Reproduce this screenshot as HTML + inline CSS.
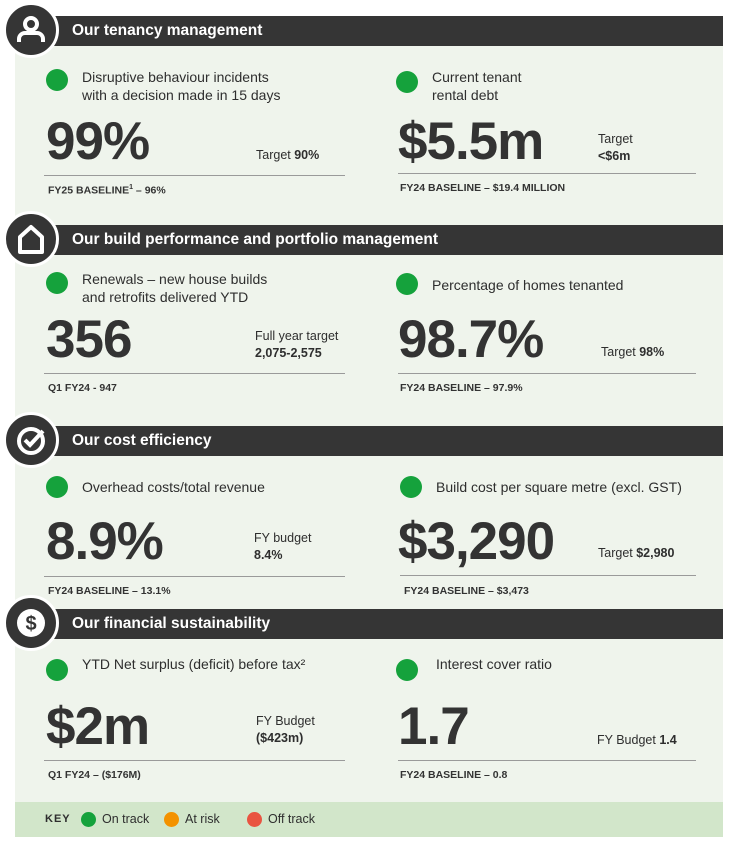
<!DOCTYPE html>
<html><head><meta charset="utf-8"><style>
*{margin:0;padding:0;box-sizing:border-box}
body{width:738px;height:852px;background:#fff;position:relative;font-family:"Liberation Sans",sans-serif;color:#2e2e2e;overflow:hidden}
.a{position:absolute;white-space:nowrap}
.panel{position:absolute;left:15px;top:30px;width:708px;height:772px;background:#eff4ec}
.key{position:absolute;left:15px;top:802px;width:708px;height:35px;background:#d2e6ca}
.bar{position:absolute;left:50px;width:673px;height:30px;background:#353535;color:#fff;font-weight:bold;font-size:15.5px;line-height:30px;padding-left:22px}
.ic{position:absolute;left:3px;width:56px;height:56px;border-radius:50%;background:#353535;border:3px solid #fff}
.dot{position:absolute;width:22px;height:22px;border-radius:50%;background:#15a23c}
.t{font-size:14px;line-height:18px;color:#2e2e2e}
.big{font-size:53px;font-weight:bold;color:#333;letter-spacing:-1px}
.s{font-size:12.5px;line-height:17px}
.ln{position:absolute;height:1px;background:#9a9a9a}
.b{font-size:10.5px;font-weight:bold;color:#333}
</style></head><body>
<div class="panel"></div>
<div class="key"></div>

<div class="bar" style="top:16px">Our tenancy management</div>
<div class="ic" style="top:2px"><svg width="50" height="50" viewBox="0 0 50 50"><circle cx="25" cy="19" r="6" fill="none" stroke="#fff" stroke-width="4"/><path d="M13 37v-3a6 6 0 0 1 6-6h12a6 6 0 0 1 6 6v3" fill="none" stroke="#fff" stroke-width="4"/></svg></div>
<div class="bar" style="top:225px">Our build performance and portfolio management</div>
<div class="ic" style="top:211px"><svg width="50" height="50" viewBox="0 0 50 50"><path d="M14 38V23l11-10 11 10v15z" fill="none" stroke="#fff" stroke-width="4" stroke-linejoin="round"/></svg></div>
<div class="bar" style="top:426px">Our cost efficiency</div>
<div class="ic" style="top:412px"><svg width="50" height="50" viewBox="0 0 50 50"><circle cx="25" cy="26" r="12" fill="none" stroke="#fff" stroke-width="4"/><path d="M19 25l5 5 13-14" fill="none" stroke="#fff" stroke-width="4"/></svg></div>
<div class="bar" style="top:609px">Our financial sustainability</div>
<div class="ic" style="top:595px"><svg width="50" height="50" viewBox="0 0 50 50"><circle cx="25" cy="25" r="14" fill="#fff"/><text x="25" y="32" text-anchor="middle" font-family="Liberation Sans" font-weight="bold" font-size="20" fill="#353535">$</text></svg></div>

<!-- S1 -->
<div class="dot" style="left:46px;top:69px"></div>
<div class="a t" style="left:82px;top:68px">Disruptive behaviour incidents<br>with a decision made in 15 days</div>
<div class="a big" style="left:46px;top:111px">99%</div>
<div class="a s" style="left:256px;top:147px">Target <b>90%</b></div>
<div class="ln" style="left:44px;top:175px;width:301px"></div>
<div class="a b" style="left:48px;top:184px">FY25 BASELINE<sup style="font-size:7px">1</sup> – 96%</div>

<div class="dot" style="left:396px;top:71px"></div>
<div class="a t" style="left:432px;top:68px">Current tenant<br>rental debt</div>
<div class="a big" style="left:398px;top:111px">$5.5m</div>
<div class="a s" style="left:598px;top:131px">Target<br><b>&lt;$6m</b></div>
<div class="ln" style="left:398px;top:173px;width:298px"></div>
<div class="a b" style="left:400px;top:182px">FY24 BASELINE – $19.4 MILLION</div>

<!-- S2 -->
<div class="dot" style="left:46px;top:272px"></div>
<div class="a t" style="left:82px;top:270px">Renewals – new house builds<br>and retrofits delivered YTD</div>
<div class="a big" style="left:46px;top:309px">356</div>
<div class="a s" style="left:255px;top:328px">Full year target<br><b>2,075-2,575</b></div>
<div class="ln" style="left:44px;top:373px;width:301px"></div>
<div class="a b" style="left:48px;top:382px">Q1 FY24 - 947</div>

<div class="dot" style="left:396px;top:273px"></div>
<div class="a t" style="left:432px;top:276px">Percentage of homes tenanted</div>
<div class="a big" style="left:398px;top:309px">98.7%</div>
<div class="a s" style="left:601px;top:344px">Target <b>98%</b></div>
<div class="ln" style="left:398px;top:373px;width:298px"></div>
<div class="a b" style="left:400px;top:382px">FY24 BASELINE – 97.9%</div>

<!-- S3 -->
<div class="dot" style="left:46px;top:476px"></div>
<div class="a t" style="left:82px;top:478px">Overhead costs/total revenue</div>
<div class="a big" style="left:46px;top:511px">8.9%</div>
<div class="a s" style="left:254px;top:530px">FY budget<br><b>8.4%</b></div>
<div class="ln" style="left:44px;top:576px;width:301px"></div>
<div class="a b" style="left:48px;top:585px">FY24 BASELINE – 13.1%</div>

<div class="dot" style="left:400px;top:476px"></div>
<div class="a t" style="left:436px;top:478px">Build cost per square metre (excl. GST)</div>
<div class="a big" style="left:398px;top:511px">$3,290</div>
<div class="a s" style="left:598px;top:545px">Target <b>$2,980</b></div>
<div class="ln" style="left:400px;top:575px;width:296px"></div>
<div class="a b" style="left:404px;top:585px">FY24 BASELINE – $3,473</div>

<!-- S4 -->
<div class="dot" style="left:46px;top:659px"></div>
<div class="a t" style="left:82px;top:655px">YTD Net surplus (deficit) before tax²</div>
<div class="a big" style="left:46px;top:696px">$2m</div>
<div class="a s" style="left:256px;top:713px">FY Budget<br><b>($423m)</b></div>
<div class="ln" style="left:44px;top:760px;width:301px"></div>
<div class="a b" style="left:48px;top:769px">Q1 FY24 – ($176M)</div>

<div class="dot" style="left:396px;top:659px"></div>
<div class="a t" style="left:436px;top:655px">Interest cover ratio</div>
<div class="a big" style="left:398px;top:696px">1.7</div>
<div class="a s" style="left:597px;top:732px">FY Budget <b>1.4</b></div>
<div class="ln" style="left:398px;top:760px;width:298px"></div>
<div class="a b" style="left:400px;top:769px">FY24 BASELINE – 0.8</div>

<!-- key -->
<div class="a" style="left:45px;top:813px;font-size:11px;font-weight:bold;letter-spacing:1px">KEY</div>
<div class="dot" style="left:81px;top:812px;width:15px;height:15px"></div>
<div class="a" style="left:102px;top:812px;font-size:12.5px">On track</div>
<div class="dot" style="left:164px;top:812px;width:15px;height:15px;background:#f39200"></div>
<div class="a" style="left:185px;top:812px;font-size:12.5px">At risk</div>
<div class="dot" style="left:247px;top:812px;width:15px;height:15px;background:#e95441"></div>
<div class="a" style="left:268px;top:812px;font-size:12.5px">Off track</div>
</body></html>
